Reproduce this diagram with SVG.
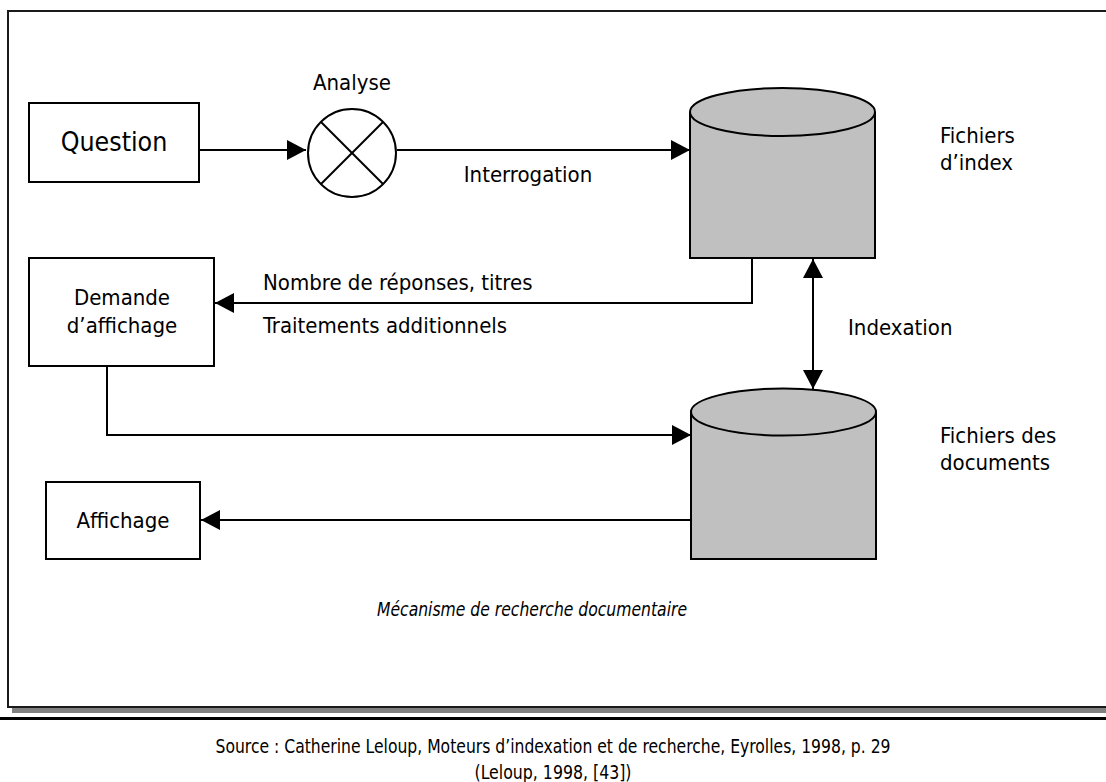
<svg xmlns="http://www.w3.org/2000/svg" width="1106" height="782" viewBox="0 0 1106 782">
<style>
.t{font-family:'DejaVu Sans Condensed','DejaVu Sans',sans-serif;font-stretch:condensed;fill:#000;font-size:22px}
.c{text-anchor:middle}
.box{fill:#fff;stroke:#000;stroke-width:2}
.cyl{fill:#c0c0c0;stroke:#000;stroke-width:2}
.ln{fill:none;stroke:#000;stroke-width:2}
</style>
<defs>
<marker id="ah" markerUnits="userSpaceOnUse" markerWidth="19" markerHeight="20" refX="19" refY="10" orient="auto-start-reverse">
<path d="M0,0 L19,10 L0,20 z" fill="#000"/>
</marker>
</defs>
<rect width="1106" height="782" fill="#fff"/>
<g id="frame">
<rect x="12" y="708" width="1100" height="5" fill="#808080"/>
<rect x="8" y="11" width="1110" height="696" fill="none" stroke="#1a1a1a" stroke-width="2"/>
<rect x="0" y="717" width="1106" height="3" fill="#000"/>
</g>
<g id="connectors">
<line class="ln" x1="199" y1="150" x2="306" y2="150" marker-end="url(#ah)"/>
<line class="ln" x1="397" y1="150" x2="690" y2="150" marker-end="url(#ah)"/>
<polyline class="ln" points="752,258 752,303 215,303" marker-end="url(#ah)"/>
<line class="ln" x1="813" y1="259" x2="813" y2="389" marker-start="url(#ah)" marker-end="url(#ah)"/>
<polyline class="ln" points="107,366 107,435 691,435" marker-end="url(#ah)"/>
<line class="ln" x1="691" y1="520" x2="201" y2="520" marker-end="url(#ah)"/>
<text class="t c" x="528" y="182">Interrogation</text>
<text class="t" x="263" y="290">Nombre de réponses, titres</text>
<text class="t" x="263" y="333">Traitements additionnels</text>
<text class="t" x="848" y="335">Indexation</text>
</g>
<g id="question">
<rect class="box" x="29" y="103" width="170" height="79"/>
<text class="t c" x="114" y="151" style="font-size:26.5px">Question</text>
</g>
<g id="analyse">
<circle class="box" cx="352" cy="153" r="44"/>
<line class="ln" x1="321" y1="122" x2="383" y2="184"/>
<line class="ln" x1="383" y1="122" x2="321" y2="184"/>
<text class="t c" x="352" y="90">Analyse</text>
</g>
<g id="index">
<path class="cyl" d="M690,112 L690,258 L875,258 L875,112"/>
<ellipse class="cyl" cx="782.5" cy="112" rx="92.5" ry="24"/>
<text class="t" x="940" y="143">Fichiers</text>
<text class="t" x="940" y="170">d’index</text>
</g>
<g id="documents">
<path class="cyl" d="M691,412 L691,559 L876,559 L876,412"/>
<ellipse class="cyl" cx="783.5" cy="412" rx="92.5" ry="23.5"/>
<text class="t" x="940" y="443">Fichiers des</text>
<text class="t" x="940" y="470">documents</text>
</g>
<g id="demande">
<rect class="box" x="29" y="258" width="185" height="108"/>
<text class="t c" x="122" y="305">Demande</text>
<text class="t c" x="122" y="333">d’affichage</text>
</g>
<g id="affichage">
<rect class="box" x="46" y="482" width="154" height="77"/>
<text class="t c" x="123" y="528">Affichage</text>
</g>
<g id="caption">
<text class="t c" x="532" y="616" style="font-style:italic;font-size:20px" textLength="310" lengthAdjust="spacingAndGlyphs">Mécanisme de recherche documentaire</text>
<text class="t c" x="553" y="753" style="font-size:20px" textLength="675" lengthAdjust="spacingAndGlyphs">Source : Catherine Leloup, Moteurs d’indexation et de recherche, Eyrolles, 1998, p. 29</text>
<text class="t c" x="553" y="779" style="font-size:20px" textLength="157" lengthAdjust="spacingAndGlyphs">(Leloup, 1998, [43])</text>
</g>
</svg>
